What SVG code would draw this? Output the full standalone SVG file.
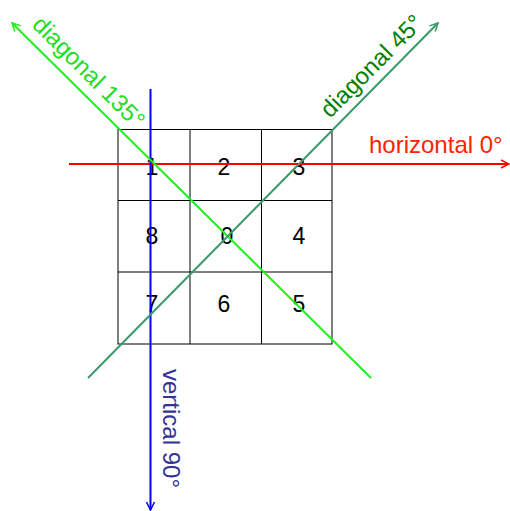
<svg xmlns="http://www.w3.org/2000/svg" width="510" height="511" viewBox="0 0 510 511">
<style>
.grid{fill:none;stroke:#000;stroke-width:1}
.num{font-family:"Liberation Sans",Arial,sans-serif;font-size:23px;fill:#000;text-anchor:middle}
.lbl{font-family:"Liberation Sans",Arial,sans-serif;font-size:24px}
.ln{fill:none;stroke-width:2}
</style>
<defs>
<marker id="ahR" viewBox="0 0 10 10" refX="9" refY="5" markerWidth="5" markerHeight="5" orient="auto" markerUnits="strokeWidth"><path d="M1,1 L9,5 L1,9" fill="none" stroke="#ff0000" stroke-width="1.5"/></marker>
<marker id="ahB" viewBox="0 0 10 10" refX="9" refY="5" markerWidth="5" markerHeight="5" orient="auto" markerUnits="strokeWidth"><path d="M1,1 L9,5 L1,9" fill="none" stroke="#0000ff" stroke-width="1.5"/></marker>
<marker id="ahL" viewBox="0 0 10 10" refX="9" refY="5" markerWidth="5" markerHeight="5" orient="auto" markerUnits="strokeWidth"><path d="M1,1 L9,5 L1,9" fill="none" stroke="#22ee22" stroke-width="1.5"/></marker>
<marker id="ahD" viewBox="0 0 10 10" refX="9" refY="5" markerWidth="5" markerHeight="5" orient="auto" markerUnits="strokeWidth"><path d="M1,1 L9,5 L1,9" fill="none" stroke="#3a9a6a" stroke-width="1.5"/></marker>
</defs>
<g id="grid">
<rect class="grid" x="118" y="129.5" width="214" height="214.5"/>
<line class="grid" x1="190" y1="129.5" x2="190" y2="344"/>
<line class="grid" x1="261.5" y1="129.5" x2="261.5" y2="344"/>
<line class="grid" x1="118" y1="200.5" x2="332" y2="200.5"/>
<line class="grid" x1="118" y1="272" x2="332" y2="272"/>
</g>
<g id="cells">
<text class="num" x="152" y="175">1</text>
<text class="num" x="224" y="175">2</text>
<text class="num" x="299" y="175">3</text>
<text class="num" x="152" y="244">8</text>
<text class="num" x="227" y="244">0</text>
<text class="num" x="299" y="244">4</text>
<text class="num" x="152" y="312">7</text>
<text class="num" x="224" y="312">6</text>
<text class="num" x="299" y="312">5</text>
</g>
<g id="connectors">
<line class="ln" x1="69" y1="164" x2="509" y2="164" stroke="#ff0000" marker-end="url(#ahR)"/>
<line class="ln" x1="150.5" y1="89" x2="150.5" y2="510" stroke="#0000ff" marker-end="url(#ahB)"/>
<line class="ln" x1="371" y1="378" x2="12" y2="23" stroke="#22ee22" marker-end="url(#ahL)"/>
<line class="ln" x1="88" y1="378" x2="438" y2="23" stroke="#3a9a6a" marker-end="url(#ahD)"/>
</g>
<g id="labels">
<text class="lbl" x="369" y="153" fill="#ff2200">horizontal 0°</text>
<text class="lbl" x="0" y="0" fill="#008000" transform="translate(330,119) rotate(-45)">diagonal 45°</text>
<text class="lbl" x="0" y="0" fill="#22dd22" transform="translate(31,26) rotate(45)">diagonal 135°</text>
<text class="lbl" x="0" y="0" fill="#333399" transform="translate(163,369) rotate(90)">vertical 90°</text>
</g>
</svg>
